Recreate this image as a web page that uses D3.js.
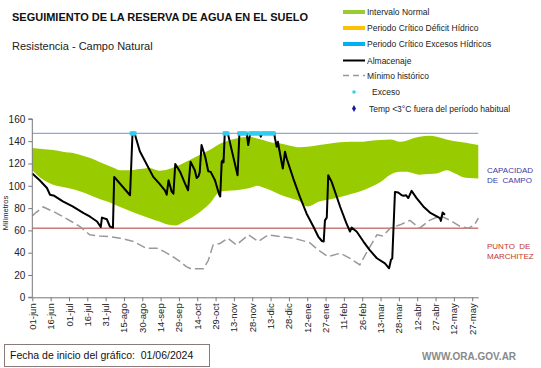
<!DOCTYPE html>
<html><head><meta charset="utf-8">
<script src="https://cdn.jsdelivr.net/npm/d3@7"></script>
<style>
body{margin:0;background:#fff}
svg{display:block}
text{font-family:"Liberation Sans",Arial,sans-serif}
</style>
</head><body><svg id="c" width="541" height="368"></svg>
<script>
// ---- data (day index since 01-jun-2024) ----
const tickDays = [0,15,30,45,60,75,90,105,120,135,150,165,180,195,210,225,240,255,270,285,300,315,330,345,360];
const tickLabels = ["01-jun","16-jun","01-jul","16-jul","31-jul","15-ago","30-ago","14-sep","29-sep","14-oct","29-oct","13-nov","28-nov","13-dic","28-dic","12-ene","27-ene","11-feb","26-feb","13-mar","28-mar","12-abr","27-abr","12-may","27-may"];
const yTicks = [0,20,40,60,80,100,120,140,160];

const bandDays  = [0,8,17,25,35,44,52,58,66,72,80,88,96,104,112,118,123,134,145,154,160,167,178,184,189,195,203,211,219,225,235,244,252,260,268,277,285,293,301,306,311,317,325,331,339,346,352,358,365];
const bandUpper = [134,133,132,130.5,129,126,123,120,116.5,114,114,115,116,113.5,115,117.5,120,126,132,138,140.5,142.5,144,142.5,141,139,138,136,134.5,135,136.5,138,139,139.5,139.5,140.5,141,141.5,139.5,140.5,142.5,144,145,144,141.5,140,139,138,136.5];
const bandLower = [114,106,101,99,96.5,93,89.5,87,84,81,77.5,74,71,68,65,64.5,67,74,84,95,95.5,96,98,100,98.5,96,92,89,86,81.5,86,88,90,92.5,95,99,103.5,110,112.5,112.5,111.5,110,110.5,111,114,111,108,107,106.5];

const minDays   = [0,3,9,17,25,32,39,47,55,63,72,83,93,102,108,115,121,126,130,140,144,148,154,160,167,177,185,193,203,211,219,227,234,242,252,260,268,274,282,287,293,301,309,317,325,334,342,350,357,362,365];
const minValues = [73,76,81,77,72.5,68,63.5,56,55,54.5,53,50,44,44,41,36.5,32,27.5,25.5,25.5,33,47,48.5,53,47,56,50,56,54.5,53.5,51.5,49,42.5,36.5,39.5,35,29,41,56,55,62,65,69,62,69,73,69,63.5,62,65,71];

const almDays   = [0,6,12,14.5,18,25,33,42,47,53,56,57,61,63.5,66,67,80,82,84,88,94,99,104,108.5,110,111.5,114,115.5,117,121,125,127.5,129.5,133,134.5,136,137,138.5,141.5,144,146,149.5,153,153.8,155,156,156.5,157.5,160,168,169.5,175.5,176.7,178,179,186,187,188,198,198.6,200,201,202.7,205,206.8,208.2,213.6,219,224.5,230,234,237,238.5,239.5,241,242.2,245,252,257,260,261.3,265.4,271,276,282,288.6,292,293.5,294.6,296.8,299.5,302.3,304,306,307.7,310.4,314.5,320,325.4,333.6,334.4,335.8,337.7];
const almValues = [111,105,98,92,91,86,81.5,75.5,72.5,68,63,71.5,70,63.5,62.5,108,91.5,147,146,131,118.5,108,102,96,92,105,95,93,119.5,112.5,102,96,121.5,114,107,108.5,112,136.5,126,113,112.5,105,92,90.5,121.5,123,121,147,147,109.5,147,147,136.5,145,147,147,144,147,147,142.5,135,139.5,129,115.5,130.5,124.5,106.5,90,75,63.5,54.5,50.5,50,69,71.5,109.5,103.5,81,66.5,59,62.5,59,50,42.5,35,30.5,26,33.5,35,94.5,94,91.5,91,91.5,89,95.5,89,81.5,76,71,68.5,76,74];

const excesoDays = [81,82,83,84,157,158,159,160,169,170,171,172,173,174,175,178,179,180,181,182,183,184,185,186,188,189,190,191,192,193,194,195,196,197,198];

const capacidadCampo = 147;
const puntoMarchitez = 62;

// ---- drawing ----
const svg = d3.select("#c");
const x = d3.scaleLinear().domain([0,365]).range([32.3,478.3]);
const y = d3.scaleLinear().domain([0,160]).range([297.3,118.9]);

// band
const bandData = bandDays.map((d,i)=>({d, u:bandUpper[i], l:bandLower[i]}));
svg.append("path").datum(bandData)
  .attr("fill","#99cc00")
  .attr("d", d3.area().x(p=>x(p.d)).y0(p=>y(p.l)).y1(p=>y(p.u)).curve(d3.curveMonotoneX));

// reference lines
svg.append("line").attr("x1",x(0)).attr("x2",x(365)).attr("y1",y(capacidadCampo)).attr("y2",y(capacidadCampo))
  .attr("stroke","#8fa6d6").attr("stroke-width",1.2);
svg.append("line").attr("x1",x(0)).attr("x2",x(365)).attr("y1",y(puntoMarchitez)).attr("y2",y(puntoMarchitez))
  .attr("stroke","#b03a3a").attr("stroke-width",1);

// minimo historico
svg.append("path").datum(minDays.map((d,i)=>[d,minValues[i]]))
  .attr("fill","none").attr("stroke","#999").attr("stroke-width",1.5).attr("stroke-dasharray","9,4")
  .attr("d", d3.line().x(p=>x(p[0])).y(p=>y(p[1])));

// almacenaje
svg.append("path").datum(almDays.map((d,i)=>[d,almValues[i]]))
  .attr("fill","none").attr("stroke","#000").attr("stroke-width",2).attr("stroke-linejoin","round")
  .attr("d", d3.line().x(p=>x(p[0])).y(p=>y(p[1])));

// exceso markers
svg.append("g").selectAll("rect").data(excesoDays).join("rect")
  .attr("x",d=>x(d)-1.6).attr("y",y(capacidadCampo)-2).attr("width",3.2).attr("height",4)
  .attr("fill","#33ccee");

// axes
const yAxis = svg.append("g").attr("transform",`translate(${x(0)},0)`)
  .call(d3.axisLeft(y).tickValues(yTicks).tickSize(4).tickPadding(3));
const xAxis = svg.append("g").attr("transform",`translate(0,${y(0)})`)
  .call(d3.axisBottom(x).tickValues(tickDays).tickFormat((d,i)=>tickLabels[i]).tickSize(4).tickSizeOuter(0));
[yAxis,xAxis].forEach(a=>{
  a.select(".domain").attr("stroke","#777");
  a.selectAll(".tick line").attr("stroke","#777");
});
yAxis.select(".domain").attr("d",`M-4,${y(160)}H0V${y(0)}H-4`);
yAxis.selectAll(".tick text").attr("font-size",10).attr("fill","#222").attr("font-family","Liberation Sans, Arial");
xAxis.selectAll(".tick text").attr("font-size",9.5).attr("fill","#222").attr("font-family","Liberation Sans, Arial")
  .attr("text-anchor","end").attr("transform","rotate(-90)").attr("x",-6).attr("y",0).attr("dy","0.32em");

svg.append("text").attr("transform","translate(8,213) rotate(-90)").attr("text-anchor","middle")
  .attr("font-size",7.5).attr("fill","#222").text("Milímetros");

// titles
svg.append("text").attr("x",12).attr("y",21).attr("font-size",11).attr("font-weight","bold").attr("fill","#111")
  .attr("textLength",296).attr("lengthAdjust","spacingAndGlyphs").text("SEGUIMIENTO DE LA RESERVA DE AGUA EN EL SUELO");
svg.append("text").attr("x",12).attr("y",50).attr("font-size",11).attr("fill","#222")
  .text("Resistencia - Campo Natural");

// right annotations
const ann = svg.append("g").attr("font-size",8);
ann.append("text").attr("x",487).attr("y",173).attr("fill","#3a3aa8").text("CAPACIDAD");
ann.append("text").attr("x",487).attr("y",183).attr("fill","#3a3aa8").attr("xml:space","preserve").text("DE  CAMPO");
ann.append("text").attr("x",487).attr("y",249).attr("fill","#c0392b").attr("xml:space","preserve").text("PUNTO  DE");
ann.append("text").attr("x",487).attr("y",259).attr("fill","#c0392b").text("MARCHITEZ");

// legend
const lg = svg.append("g").attr("font-size",8.5).attr("fill","#222");
const lx = 343, tx = 367;
lg.append("rect").attr("x",lx).attr("y",10).attr("width",22).attr("height",4).attr("fill","#99cc33");
lg.append("text").attr("x",tx).attr("y",15).text("Intervalo Normal");
lg.append("rect").attr("x",lx).attr("y",26).attr("width",22).attr("height",4).attr("fill","#ffc000");
lg.append("text").attr("x",tx).attr("y",31).text("Periodo Crítico Déficit Hídrico");
lg.append("rect").attr("x",lx).attr("y",42).attr("width",22).attr("height",4).attr("fill","#00b0f0");
lg.append("text").attr("x",tx).attr("y",47).text("Periodo Crítico Excesos Hídricos");
lg.append("line").attr("x1",lx).attr("x2",lx+22).attr("y1",60.5).attr("y2",60.5).attr("stroke","#000").attr("stroke-width",2);
lg.append("text").attr("x",tx).attr("y",64).text("Almacenaje");
lg.append("line").attr("x1",lx).attr("x2",lx+22).attr("y1",75.5).attr("y2",75.5).attr("stroke","#999").attr("stroke-width",1.5).attr("stroke-dasharray","6,4");
lg.append("text").attr("x",tx).attr("y",79).text("Mínimo histórico");
lg.append("rect").attr("x",352.5).attr("y",90.5).attr("width",3).attr("height",3).attr("fill","#33ccee");
lg.append("text").attr("x",372).attr("y",95).text("Exceso");
lg.append("path").attr("d",d3.symbol(d3.symbolDiamond,14)()).attr("transform","translate(354,108.5)").attr("fill","#1a1aa0");
lg.append("text").attr("x",369).attr("y",112).text("Temp <3°C fuera del período habitual");

// footer
svg.append("rect").attr("x",4.5).attr("y",344.5).attr("width",205).attr("height",22).attr("fill","none").attr("stroke","#8a7a7a");
svg.append("text").attr("x",10).attr("y",359).attr("font-size",10.5).attr("fill","#111").attr("font-family","Open Sans, Liberation Sans")
  .attr("xml:space","preserve").text("Fecha de inicio del gráfico:  01/06/2024");
svg.append("text").attr("x",422).attr("y",360).attr("font-size",10).attr("font-weight","bold").attr("fill","#8a8a8a")
  .text("WWW.ORA.GOV.AR");
</script>
</body></html>
